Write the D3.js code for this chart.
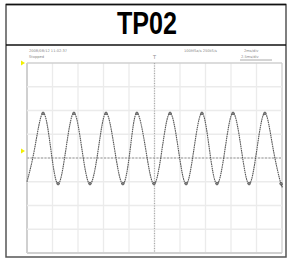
<!DOCTYPE html>
<html>
<head>
<meta charset="utf-8">
<script src="https://cdn.jsdelivr.net/npm/d3@7"></script>
<style>
body{margin:0;background:#fff;}
svg{display:block;}
</style>
</head>
<body>
<svg id="chart"></svg>
<script>
var title = "TP02";
var xDivs = [0,1,2,3,4,5,6,7,8,9,10];
var yDivs = [-4,-3,-2,-1,0,1,2,3,4];
// waveform key points (time in div, volts in div)
var waveT = [0,0.3,0.63,0.93,1.22,1.53,1.84,2.15,2.47,2.8,3.1,3.43,3.76,4.05,4.31,4.65,4.98,5.3,5.61,5.93,6.24,6.55,6.86,7.15,7.45,7.77,8.08,8.4,8.71,9.02,9.33,9.65,9.96,10];
var waveV = [-1.0,0.4,1.9,0.4,-1.1,0.4,1.9,0.4,-1.1,0.4,1.9,0.4,-1.1,0.4,1.9,0.4,-1.1,0.4,1.9,0.4,-1.1,0.4,1.9,0.4,-1.1,0.4,1.9,0.4,-1.1,0.4,1.9,0.4,-1.1,-1.05];
var infoLeft = ["2008/08/12  11:02:37","Stopped"];
var infoMid = "100MSa/s 250kS/s";
var infoRight = ["2ms/div","2.5ms/div"];

function render()
{
	var W = 287, H = 260;
	var svg = d3.select('#chart').attr('width', W).attr('height', H);

	var xScale = d3.scaleLinear().domain([0,10]).range([27,282]);
	var yScale = d3.scaleLinear().domain([-4,4]).range([253,63]);

	// outer frame
	svg.append('rect').attr('x',6).attr('y',4.5).attr('width',280).attr('height',252.5)
		.attr('fill','none').attr('stroke','#555').attr('stroke-width',1.5);
	svg.append('line').attr('x1',6).attr('x2',286).attr('y1',4.5).attr('y2',4.5)
		.attr('stroke','#111').attr('stroke-width',1.5);
	svg.append('line').attr('x1',6).attr('x2',286).attr('y1',45).attr('y2',45)
		.attr('stroke','#111').attr('stroke-width',1.3);

	svg.append('text')
		.attr('x',117).attr('y',34)
		.attr('textLength',60).attr('lengthAdjust','spacingAndGlyphs')
		.style('font-family','"Liberation Sans Narrow","Arial Narrow","Liberation Sans",sans-serif')
		.style('font-weight','bold')
		.style('font-size','31px')
		.attr('fill','#000')
		.text(title);

	// grid
	var grid = svg.append('g').attr('class','grid');
	grid.selectAll('line.v').data(xDivs).enter().append('line')
		.attr('class','v')
		.attr('x1', function(d){ return xScale(d); })
		.attr('x2', function(d){ return xScale(d); })
		.attr('y1', yScale(4)).attr('y2', yScale(-4))
		.attr('stroke', function(d){ return (d==0||d==10) ? '#d0d0d0' : '#ebebeb'; })
		.attr('stroke-width', function(d){ return (d==0) ? 2 : 1.3; });
	grid.selectAll('line.h').data(yDivs).enter().append('line')
		.attr('class','h')
		.attr('y1', function(d){ return yScale(d); })
		.attr('y2', function(d){ return yScale(d); })
		.attr('x1', xScale(0)).attr('x2', xScale(10))
		.attr('stroke', function(d){ return (d==-4||d==4) ? '#d0d0d0' : '#ebebeb'; })
		.attr('stroke-width', function(d){ return (d==-4) ? 2 : 1.3; });

	// centre axes (dotted)
	grid.append('line')
		.attr('x1', xScale(5)).attr('x2', xScale(5))
		.attr('y1', yScale(4)).attr('y2', yScale(-4))
		.attr('stroke','#aaa').attr('stroke-width',1.2).attr('stroke-dasharray','1,1.5');
	grid.append('line')
		.attr('x1', xScale(0)).attr('x2', xScale(10))
		.attr('y1', yScale(0)).attr('y2', yScale(0))
		.attr('stroke','#999').attr('stroke-width',1.2).attr('stroke-dasharray','2,1.5');

	// info texts
	var info = svg.append('g').style('font-family','"DejaVu Sans",sans-serif')
		.style('font-size','3.6px').attr('fill','#888');
	info.append('text').attr('x',29).attr('y',51.5).text(infoLeft[0]);
	info.append('text').attr('x',29).attr('y',57.5).text(infoLeft[1]);
	info.append('text').attr('x',184).attr('y',51.5).text(infoMid);
	info.append('text').attr('x',244).attr('y',51.5).text(infoRight[0]);
	info.append('text').attr('x',241).attr('y',57.5).text(infoRight[1]);
	svg.append('line').attr('x1',240).attr('x2',272).attr('y1',60).attr('y2',60)
		.attr('stroke','#aaa').attr('stroke-width',1);
	info.append('text').attr('x',xScale(5)-1.5).attr('y',59).style('font-size','5px').text('T');

	// channel markers
	svg.append('path').attr('d','M21,60.5 L25,63 L21,65.5 Z').attr('fill','#f2f000');
	svg.append('path').attr('d','M21,' + (yScale(0.3)-2.5) + ' L25,' + yScale(0.3) + ' L21,' + (yScale(0.3)+2.5) + ' Z')
		.attr('fill','#f2f000');

	// waveform
	var pts = waveT.map(function(t,i){ return [t, waveV[i]]; });
	var line = d3.line()
		.x(function(d){ return xScale(d[0]); })
		.y(function(d){ return yScale(d[1]); })
		.curve(d3.curveNatural);
	svg.append('path').datum(pts)
		.attr('d', line)
		.attr('fill','none')
		.attr('stroke','#555')
		.attr('stroke-width',1.1)
		.attr('stroke-dasharray','1.6,0.6');

	var ext = pts.filter(function(d,i){ return i>0 && i<pts.length-1 && Math.abs(d[1]-0.4)>1; });
	svg.selectAll('circle.m').data(ext).enter().append('circle')
		.attr('class','m')
		.attr('cx', function(d){ return xScale(d[0]); })
		.attr('cy', function(d){ return yScale(d[1]) + (d[1]>0 ? 0.5 : -0.5); })
		.attr('r',1.3)
		.attr('fill','#888')
		.attr('stroke','#555')
		.attr('stroke-width',0.7);
}
render();
</script>
</body>
</html>
